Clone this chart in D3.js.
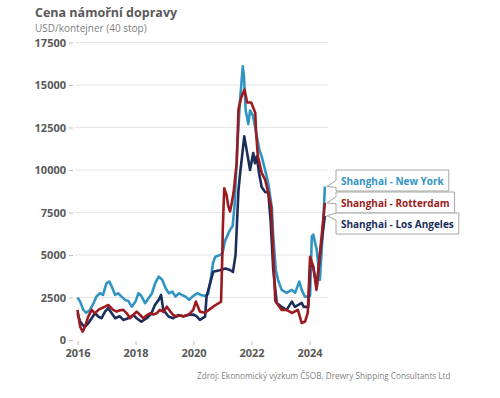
<!DOCTYPE html>
<html>
<head>
<meta charset="utf-8">
<script src="https://cdn.jsdelivr.net/npm/d3@7"></script>
<style>
  body { margin: 0; background: #fff; }
  text { font-family: "Open Sans", "Noto Sans", sans-serif; }
</style>
</head>
<body>
<div id="chart"></div>
<script>
// series: [decimal year, USD per 40ft container]
var newYork = [[2016.00,2500],[2016.09,2260],[2016.20,1770],[2016.30,1600],[2016.43,1770],[2016.55,2160],[2016.65,2550],[2016.77,2750],[2016.88,2650],[2017.00,3340],[2017.10,3440],[2017.18,3140],[2017.30,2650],[2017.40,2750],[2017.52,2550],[2017.64,2360],[2017.75,2300],[2017.87,1960],[2018.00,2260],[2018.10,2750],[2018.20,2600],[2018.33,2160],[2018.45,2460],[2018.57,2750],[2018.68,3340],[2018.80,3730],[2018.92,3540],[2019.04,3040],[2019.15,2750],[2019.27,2850],[2019.38,2550],[2019.50,2750],[2019.60,2650],[2019.73,2550],[2019.85,2360],[2019.96,2550],[2020.13,2750],[2020.25,2650],[2020.38,2600],[2020.50,2700],[2020.58,3400],[2020.67,4500],[2020.75,4900],[2020.92,5000],[2021.00,5100],[2021.08,5800],[2021.25,6450],[2021.35,6700],[2021.42,8000],[2021.50,11000],[2021.60,14000],[2021.70,16100],[2021.74,15500],[2021.80,13500],[2021.89,12700],[2021.95,13500],[2022.05,13200],[2022.15,12300],[2022.27,11200],[2022.35,10800],[2022.47,10000],[2022.58,9200],[2022.70,7800],[2022.75,6100],[2022.84,4100],[2022.92,3500],[2023.04,2950],[2023.21,2770],[2023.39,2950],[2023.50,2770],[2023.65,3440],[2023.73,2950],[2023.84,2550],[2023.96,2550],[2024.02,2600],[2024.08,6100],[2024.13,6200],[2024.25,5300],[2024.36,3540],[2024.48,7070],[2024.53,9030]];

var rotterdam = [[2016.00,1770],[2016.09,790],[2016.18,490],[2016.26,790],[2016.37,1380],[2016.49,1770],[2016.60,1570],[2016.72,1770],[2016.83,1870],[2016.95,1960],[2017.06,2060],[2017.23,1770],[2017.35,1670],[2017.46,1750],[2017.58,1770],[2017.70,1570],[2017.81,1280],[2017.92,1470],[2018.04,1670],[2018.16,1470],[2018.27,1280],[2018.39,1450],[2018.50,1570],[2018.61,1500],[2018.73,1570],[2018.84,1770],[2018.96,1650],[2019.08,1960],[2019.19,1700],[2019.30,1470],[2019.42,1380],[2019.53,1450],[2019.65,1400],[2019.77,1450],[2019.88,1570],[2019.99,1770],[2020.08,2260],[2020.22,1670],[2020.40,1600],[2020.55,1800],[2020.68,1960],[2020.86,2160],[2020.95,2250],[2020.99,4700],[2021.01,6500],[2021.06,8930],[2021.14,8540],[2021.20,7860],[2021.26,7560],[2021.32,8070],[2021.38,8660],[2021.49,10400],[2021.55,13550],[2021.65,14300],[2021.76,14730],[2021.85,13970],[2021.99,13970],[2022.13,13360],[2022.16,12180],[2022.22,10800],[2022.35,9830],[2022.47,9430],[2022.58,8660],[2022.68,7800],[2022.75,5000],[2022.82,2300],[2023.04,1770],[2023.21,1770],[2023.39,1590],[2023.60,1770],[2023.73,1000],[2023.85,1090],[2023.94,1590],[2024.02,4900],[2024.13,4320],[2024.24,2950],[2024.36,5100],[2024.53,8070]];

var losAngeles = [[2016.00,1570],[2016.09,1080],[2016.18,880],[2016.26,790],[2016.37,980],[2016.49,1280],[2016.60,1570],[2016.72,1380],[2016.83,1280],[2016.95,1670],[2017.06,1870],[2017.18,1570],[2017.30,1280],[2017.45,1400],[2017.58,1180],[2017.75,1280],[2017.92,1470],[2018.04,1280],[2018.20,1080],[2018.39,1280],[2018.55,1570],[2018.67,2060],[2018.80,2360],[2018.88,2650],[2018.96,1770],[2019.14,1380],[2019.30,1280],[2019.47,1470],[2019.65,1380],[2019.82,1470],[2019.99,1500],[2020.10,1400],[2020.22,1180],[2020.40,1380],[2020.45,2550],[2020.55,3200],[2020.68,4020],[2020.90,4100],[2021.10,4200],[2021.26,4120],[2021.36,4000],[2021.45,5000],[2021.55,8800],[2021.62,10000],[2021.66,10600],[2021.75,11980],[2021.83,11200],[2021.89,10600],[2021.95,10000],[2022.06,11000],[2022.12,10400],[2022.18,10800],[2022.26,9830],[2022.35,9000],[2022.47,8700],[2022.58,8660],[2022.66,7000],[2022.75,4120],[2022.87,2180],[2023.04,1950],[2023.21,1770],[2023.39,2260],[2023.50,1950],[2023.73,2180],[2023.80,1950],[2023.96,1950],[2024.03,4600],[2024.13,4300],[2024.25,3100],[2024.36,5000],[2024.53,7300]];

var seriesNames = ["Shanghai - New York", "Shanghai - Rotterdam", "Shanghai - Los Angeles"];
var seriesColors = ["#3194c2", "#9b1b20", "#1b2d5b"];
var yTicks = [0, 2500, 5000, 7500, 10000, 12500, 15000, 17500];
var xTicks = [2016, 2018, 2020, 2022, 2024];

var svgWidth = 500;
var svgHeight = 398;

var svg = d3.select("#chart").append("svg")
  .attr("width", svgWidth)
  .attr("height", svgHeight);

// scales (2016 sits at x=77.5, 0 sits at y=340)
var xScale = d3.scaleLinear()
  .domain([2016, 2024])
  .range([77.5, 309.5]);
var yScale = d3.scaleLinear()
  .domain([0, 17500])
  .range([340, 42.5]);

// title
svg.append("text")
  .attr("x", 35).attr("y", 17)
  .attr("font-size", 12.5).attr("font-weight", 700)
  .attr("fill", "#595959")
  .text("Cena námořní dopravy");
svg.append("text")
  .attr("x", 35).attr("y", 31.5)
  .attr("font-size", 10)
  .attr("fill", "#808080")
  .text("USD/kontejner (40 stop)");

// gridlines
svg.append("g").selectAll("line")
  .data(yTicks.slice(1))
  .enter().append("line")
  .attr("x1", 75).attr("x2", 328)
  .attr("y1", d => yScale(d)).attr("y2", d => yScale(d))
  .attr("stroke", "#e6e6e6").attr("stroke-width", 1);

// y axis
var yAxis = d3.axisLeft(yScale).tickValues(yTicks).tickSize(4).tickPadding(3).tickFormat(d3.format("d"));
var yAxisGroup = svg.append("g")
  .attr("transform", "translate(73, 0)")
  .call(yAxis);
yAxisGroup.select(".domain").remove();
yAxisGroup.selectAll("line").attr("stroke", "#bfbfbf");
yAxisGroup.selectAll("text")
  .attr("font-size", 11).attr("font-weight", 700)
  .attr("fill", "#595959")
  .attr("font-family", "Open Sans, sans-serif");

// x axis
var xAxis = d3.axisBottom(xScale).tickValues(xTicks).tickSize(4).tickPadding(4).tickFormat(d3.format("d"));
var xAxisGroup = svg.append("g")
  .attr("transform", "translate(0, 341)")
  .call(xAxis);
xAxisGroup.select(".domain").remove();
xAxisGroup.selectAll("line").attr("stroke", "#bfbfbf");
xAxisGroup.selectAll("text")
  .attr("font-size", 11).attr("font-weight", 700)
  .attr("fill", "#595959")
  .attr("font-family", "Open Sans, sans-serif");

// lines
var line = d3.line()
  .x(d => xScale(d[0]))
  .y(d => yScale(d[1]));

var drawOrder = [[newYork, 0], [losAngeles, 2], [rotterdam, 1]];
drawOrder.forEach(function(s) {
  svg.append("path")
    .datum(s[0])
    .attr("d", line)
    .attr("fill", "none")
    .attr("stroke", seriesColors[s[1]])
    .attr("stroke-width", 2.6)
    .attr("stroke-linejoin", "round");
});

// end labels with callout pointers
var allSeries = [newYork, rotterdam, losAngeles];
var boxTops = [170, 192, 213];
var boxLeft = 336;
var boxH = 21;

allSeries.forEach(function(s, i) {
  var last = s[s.length - 1];
  var tipX = xScale(last[0]) + 2;
  var tipY = yScale(last[1]);
  var top = boxTops[i];
  var bottom = top + boxH;
  var box = svg.append("path");
  var label = svg.append("text")
    .attr("x", boxLeft + 5)
    .attr("y", top + 14.5)
    .attr("font-size", 10).attr("font-weight", 700)
    .attr("fill", seriesColors[i])
    .text(seriesNames[i]);
  var right = boxLeft + label.node().getComputedTextLength() + 10;
  var upper = Math.max(top, Math.min(bottom - 8, tipY - 6));
  var lower = Math.min(bottom, upper + 7);
  var path = "M" + boxLeft + "," + top +
    "H" + right + "V" + bottom + "H" + boxLeft +
    "V" + lower + "L" + tipX + "," + tipY + "L" + boxLeft + "," + upper + "Z";
  box.attr("d", path)
    .attr("fill", "#fff")
    .attr("stroke", "#a6a6a6")
    .attr("stroke-width", 1);
});

// source
svg.append("text")
  .attr("x", 197).attr("y", 379)
  .attr("font-size", 8.2)
  .attr("fill", "#7f7f7f")
  .text("Zdroj: Ekonomický výzkum ČSOB, Drewry Shipping Consultants Ltd");
</script>
</body>
</html>
